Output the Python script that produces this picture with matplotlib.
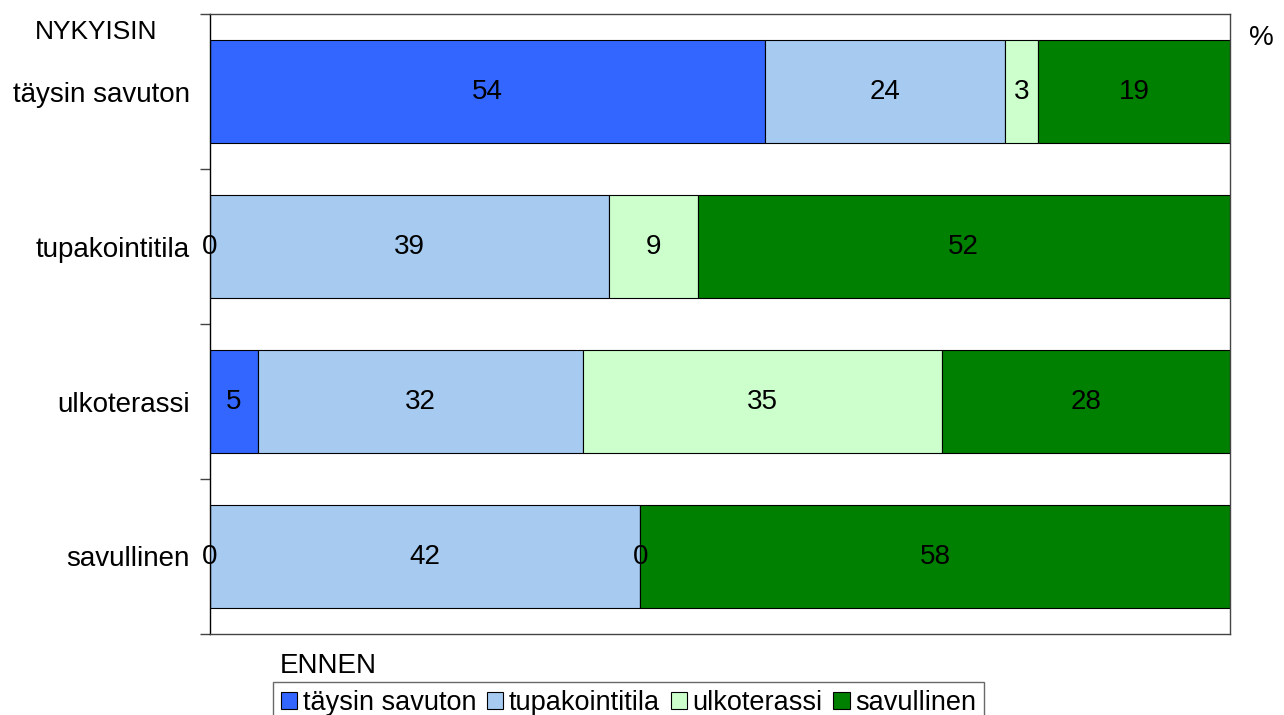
import matplotlib
matplotlib.use("Agg")
import matplotlib.pyplot as plt
import numpy as np

plt.rcParams['font.family'] = ['Liberation Sans', 'DejaVu Sans']

categories = ["täysin savuton", "tupakointitila", "ulkoterassi", "savullinen"]
series_names = ["täysin savuton", "tupakointitila", "ulkoterassi", "savullinen"]
taysin_savuton = [54.4, 0, 4.7, 0]
tupakointitila = [23.5, 39.1, 31.9, 42.2]
ulkoterassi = [3.3, 8.7, 35.2, 0]
savullinen = [18.8, 52.2, 28.2, 57.8]
colors = ["#3366FF", "#A6CAF0", "#CCFFCC", "#008000"]

series = [taysin_savuton, tupakointitila, ulkoterassi, savullinen]

FS = 20
fig = plt.figure(figsize=(12.84, 7.15), dpi=100)
ax = fig.add_axes([210/1284, 1-634/715, (1230-210)/1284, (634-14)/715])

y = np.arange(len(categories))
left = np.zeros(len(categories))
for vals, c, name in zip(series, colors, series_names):
    vals = np.array(vals, dtype=float)
    ax.barh(y, vals, left=left, height=0.665, color=c, edgecolor="black",
            linewidth=0.8, label=name)
    for yi, l, v in zip(y, left, vals):
        ax.text(l + v/2, yi, f"{round(v):d}", ha="center", va="center", fontsize=FS, color="black")
    left += vals

ax.set_xlim(0, 100)
ax.set_ylim(3.5, -0.5)
ax.set_yticks(np.arange(-0.5, 4, 1))
ax.set_yticklabels([])
ax.set_yticks(y, minor=True)
ax.set_yticklabels(categories, minor=True, fontsize=FS)
ax.tick_params(axis="y", which="minor", length=0, pad=14.5)
ax.tick_params(axis="y", which="major", length=7, width=1, color="#444444")
ax.set_xticks([])
for s in ["top", "right", "bottom"]:
    ax.spines[s].set_color("#444444")
    ax.spines[s].set_linewidth(1)
ax.spines["left"].set_color("black")
ax.spines["left"].set_linewidth(1)

fig.text(35/1284, 1-32/715, "NYKYISIN", fontsize=19, ha="left", va="center")
fig.text(1249/1284, 1-38/715, "%", fontsize=FS, ha="left", va="center")
fig.text(280/1284, 1-666/715, "ENNEN", fontsize=FS, ha="left", va="center")

leg = fig.legend(loc="upper left", bbox_to_anchor=(273/1284, 1-682/715), ncol=4,
                 fontsize=19.5, frameon=True, fancybox=False, edgecolor="#444444",
                 handlelength=0.6, handleheight=0.6, handletextpad=0.2,
                 columnspacing=0.4, borderpad=0.3, borderaxespad=0)
leg.get_frame().set_linewidth(1)

fig.savefig("out.png", dpi=100)
